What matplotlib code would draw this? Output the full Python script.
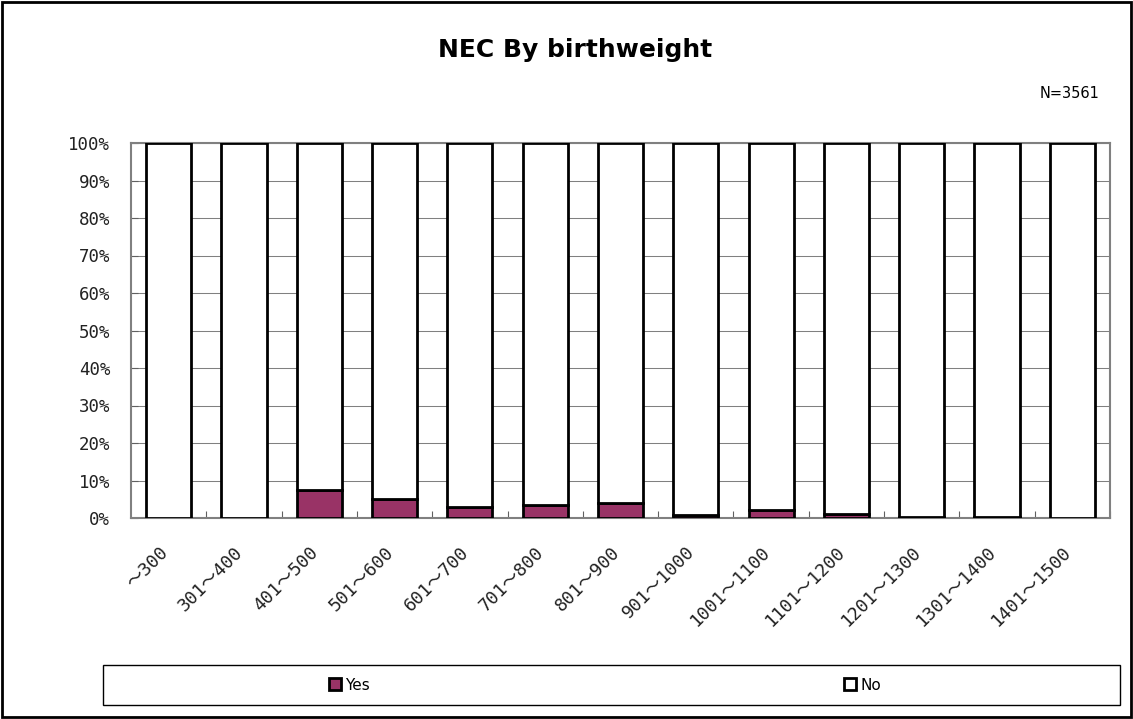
import numpy as np
import matplotlib.pyplot as plt
from matplotlib.patches import Rectangle, Patch
from matplotlib.transforms import ScaledTranslation

# Data
categories = ["〜300", "301〜400", "401〜500", "501〜600", "601〜700", "701〜800",
              "801〜900", "901〜1000", "1001〜1100", "1101〜1200", "1201〜1300",
              "1301〜1400", "1401〜1500"]
yes_pct = [0.0, 0.0, 7.5, 5.0, 2.9, 3.5, 4.0, 0.8, 2.1, 1.1, 0.3, 0.3, 0.0]
no_pct = [100 - v for v in yes_pct]
n_total = 3561

mono = ["DejaVu Sans Mono", "Noto Sans CJK JP"]

fig = plt.figure(figsize=(11.33, 7.19), dpi=100)
ax = fig.add_axes([131 / 1133, 1 - 518 / 719, 979 / 1133, 375 / 719])

x = np.arange(len(categories))
ax.bar(x, yes_pct, width=0.6, color="#993366", edgecolor="black", linewidth=2, zorder=3)
ax.bar(x, no_pct, bottom=yes_pct, width=0.6, color="white", edgecolor="black",
       linewidth=2, zorder=3)

ax.set_xlim(-0.5, len(categories) - 0.5)
ax.set_ylim(0, 100)
ax.set_yticks(np.arange(0, 101, 10))
ax.set_yticklabels([f"{v}%" for v in range(0, 101, 10)], family=mono, fontsize=12.5,
                   fontweight="light", color="#222222")
ax.yaxis.grid(True, color="#808080", linewidth=0.75, zorder=0)

# ticks between categories, labels at the centres
ax.set_xticks(x + 0.5, minor=False)
ax.set_xticklabels([])
ax.set_xticks(x, minor=True)
ax.set_xticklabels(categories, minor=True, rotation=45, ha="right",
                   rotation_mode="anchor", family=mono, fontsize=13, color="#222222")
ax.tick_params(axis="x", which="minor", length=0, pad=18)
ax.tick_params(axis="x", which="major", direction="in", length=5, color="#606060")
ax.tick_params(axis="y", direction="in", length=5, color="#606060", pad=15)
shift = ScaledTranslation(-10 / 100, 0, fig.dpi_scale_trans)
for lab in ax.get_xticklabels(minor=True):
    lab.set_transform(lab.get_transform() + shift)

for s in ax.spines.values():
    s.set_color("#808080")
    s.set_linewidth(1.5)

fig.text(575 / 1133, 1 - 50 / 719, "NEC By birthweight", ha="center", va="center",
         fontsize=18, fontweight="bold", family="DejaVu Sans")
fig.text(1070 / 1133, 1 - 93 / 719, f"N={n_total}", ha="center", va="center",
         fontsize=10.5, family="DejaVu Sans")

# outer border and legend box
fig.patches.append(Rectangle((0.002, 0.003), 0.996, 0.994, transform=fig.transFigure,
                             fill=False, edgecolor="black", linewidth=2))
fig.patches.append(Rectangle((103 / 1133, 1 - 705 / 719), 1017 / 1133, 40 / 719,
                             transform=fig.transFigure, fill=False,
                             edgecolor="black", linewidth=1))

handles = [Patch(facecolor="#993366", edgecolor="black", linewidth=2, label="Yes"),
           Patch(facecolor="white", edgecolor="black", linewidth=2, label="No")]
fig.legend(handles=handles, loc="center", bbox_to_anchor=(605 / 1133, 1 - 685 / 719),
           ncol=2, frameon=False, fontsize=11, handlelength=0.8, handleheight=0.8,
           handletextpad=0.3, columnspacing=31)

fig.savefig("out.png", dpi=100)
